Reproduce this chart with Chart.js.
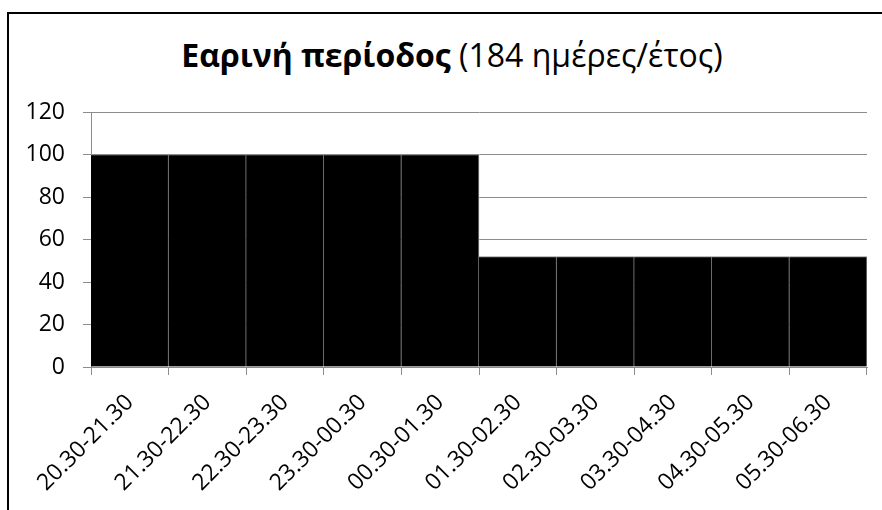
<!DOCTYPE html>
<html>
<head>
<meta charset="utf-8">
<script src="https://cdn.jsdelivr.net/npm/chart.js@4/dist/chart.umd.min.js"></script>
<style>
  html, body { margin: 0; padding: 0; background: #fff; }
  #wrap { position: relative; width: 882px; height: 510px; overflow: hidden; }
  #frame { position: absolute; left: 7px; top: 12px; width: 900px; height: 520px;
           border-left: 2px solid #000; border-top: 2px solid #000; }
  #title { position: absolute; left: 0; top: 35px; width: 904px; text-align: center; line-height: 40px;
           font-family: "Open Sans", sans-serif; font-size: 32px; color: #000; white-space: nowrap; }
  #title b { font-weight: 700; }
  canvas { position: absolute; left: 0; top: 0; }
</style>
</head>
<body>
<div id="wrap">
  <div id="frame"></div>
  <div id="title"><b>Εαρινή περίοδος</b> (184 ημέρες/έτος)</div>
  <canvas id="myChart" width="882" height="510"></canvas>
</div>
<script>
// ώρες λειτουργίας (κατηγορίες)
const hours = [
  "20.30-21.30", "21.30-22.30", "22.30-23.30", "23.30-00.30", "00.30-01.30",
  "01.30-02.30", "02.30-03.30", "03.30-04.30", "04.30-05.30", "05.30-06.30"
];
// ποσοστό ανά ώρα
const percent = [100, 100, 100, 100, 100, 52, 52, 52, 52, 52];
const yTicks = [0, 20, 40, 60, 80, 100, 120];

const gridGray = "#8c8c8c";
const tickFont = { family: "'Open Sans', sans-serif", size: 23 };

const ctx = document.getElementById("myChart");
new Chart(ctx, {
  type: "bar",
  data: {
    labels: hours,
    datasets: [{
      data: percent,
      backgroundColor: "#000",
      borderColor: gridGray,
      borderWidth: { top: 1, right: 1, left: 0, bottom: 0 },
      borderSkipped: false,
      barPercentage: 1,
      categoryPercentage: 1
    }]
  },
  options: {
    responsive: false,
    animation: false,
    layout: { padding: { left: 0, top: 112, right: 15, bottom: 0 } },
    plugins: {
      legend: { display: false },
      tooltip: { enabled: false }
    },
    scales: {
      x: {
        afterFit: s => { s.height = 143; },
        grid: { offset: true, drawOnChartArea: false, color: gridGray, tickLength: 8 },
        border: { color: gridGray },
        ticks: { color: "#000", font: tickFont, maxRotation: 45, minRotation: 45, padding: 14, autoSkip: false }
      },
      y: {
        min: 0,
        max: 120,
        afterFit: s => { s.width = 91; },
        afterBuildTicks: s => { s.ticks = yTicks.map(v => ({ value: v })); },
        grid: { color: gridGray, tickLength: 8 },
        border: { color: gridGray },
        ticks: { color: "#000", font: tickFont, padding: 18 }
      }
    }
  }
});
</script>
</body>
</html>
